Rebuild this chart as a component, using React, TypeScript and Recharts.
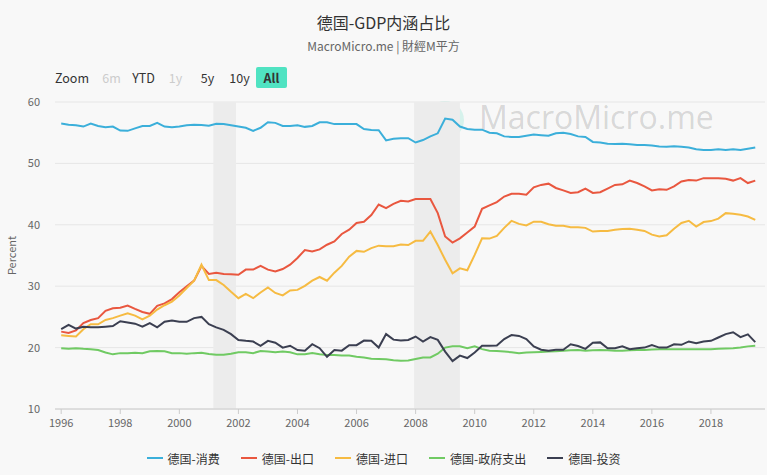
import {
  CartesianGrid,
  Legend,
  Line,
  LineChart,
  ReferenceArea,
  XAxis,
  YAxis,
} from "recharts";

const FONT = '"Noto Sans CJK SC", "Noto Sans", sans-serif';

// quarterly, 1996Q1 .. 2019Q3
const startYear = 1996;

const consumption = [
  56.5, 56.3, 56.2, 56.0,
  56.5, 56.1, 55.9, 56.0,
  55.35, 55.3, 55.7, 56.1,
  56.1, 56.6, 56.0, 55.9,
  56.0, 56.2, 56.3, 56.25,
  56.15, 56.45, 56.4, 56.2,
  56.0, 55.8, 55.3, 55.8,
  56.7, 56.6, 56.1, 56.1,
  56.2, 55.95, 56.1, 56.7,
  56.7, 56.4, 56.4, 56.4,
  56.4, 55.6, 55.45, 55.4,
  53.75, 54.0, 54.1, 54.1,
  53.4, 53.8, 54.4, 54.9,
  57.3, 57.1, 56.0, 55.6,
  55.5, 55.5, 55.0, 54.9,
  54.4, 54.3, 54.3, 54.5,
  54.7, 54.6, 54.5, 54.9,
  55.0, 54.8, 54.4, 54.3,
  53.5, 53.4, 53.2, 53.15,
  53.2, 53.1, 53.0, 53.0,
  52.9, 52.75, 52.7, 52.8,
  52.7, 52.6, 52.3, 52.2,
  52.2, 52.3, 52.2, 52.3,
  52.2, 52.4, 52.6,
];

const exportsShare = [
  22.6, 22.4, 22.8, 24.0,
  24.5, 24.8, 26.0, 26.4,
  26.5, 26.85, 26.3, 25.8,
  25.5, 26.8, 27.2, 27.9,
  29.0, 30.0, 30.9, 33.3,
  32.0, 32.2, 32.0, 31.95,
  31.85, 32.7, 32.7, 33.3,
  32.7, 32.4, 32.8, 33.5,
  34.6, 35.9, 35.65, 36.0,
  36.75, 37.3, 38.5, 39.2,
  40.3, 40.5, 41.6, 43.3,
  42.7, 43.4, 43.9, 43.8,
  44.2, 44.2, 44.2, 41.9,
  38.1, 37.1, 37.8, 38.75,
  39.7, 42.6, 43.15, 43.7,
  44.6, 45.05, 45.05, 44.9,
  46.1, 46.5, 46.7, 46.0,
  45.6, 45.2, 45.3, 45.9,
  45.2, 45.3, 45.9, 46.5,
  46.6, 47.2, 46.8, 46.25,
  45.6, 45.8, 45.7, 46.25,
  47.05, 47.3, 47.2, 47.6,
  47.6, 47.6, 47.5, 47.2,
  47.6, 46.8, 47.2,
];

const importsShare = [
  22.0, 21.9, 21.8, 23.0,
  23.8, 23.8, 24.5, 24.8,
  25.2, 25.6, 25.2, 24.6,
  25.2, 26.2, 26.9, 27.5,
  28.5, 29.7, 30.9, 33.5,
  31.0, 31.0, 30.2, 29.1,
  28.05, 28.75, 28.05, 28.97,
  29.8, 28.9, 28.5, 29.3,
  29.4, 30.05, 30.9, 31.5,
  30.9, 32.2, 33.3, 34.8,
  35.75, 35.6, 36.2, 36.6,
  36.5, 36.5, 36.8, 36.7,
  37.4, 37.4, 38.9, 36.7,
  34.3, 32.1, 32.9, 32.6,
  35.1, 37.8, 37.75, 38.2,
  39.5, 40.65, 40.15, 39.9,
  40.5, 40.5, 40.1, 39.85,
  39.85, 39.6, 39.6, 39.5,
  38.9, 39.0, 39.0, 39.2,
  39.3, 39.35, 39.2, 39.0,
  38.4, 38.1, 38.3, 39.35,
  40.3, 40.65, 39.7, 40.45,
  40.6, 41.0, 41.9, 41.8,
  41.65, 41.35, 40.8,
];

const government = [
  19.9, 19.8, 19.9, 19.8,
  19.75, 19.6, 19.2, 18.9,
  19.1, 19.1, 19.15, 19.1,
  19.4, 19.45, 19.4, 19.1,
  19.1, 19.0, 19.1, 19.15,
  18.95, 18.85, 18.85, 19.0,
  19.25, 19.25, 19.1, 19.45,
  19.35, 19.25, 19.35, 19.25,
  18.9, 18.9, 19.1, 18.9,
  18.8, 18.8, 18.7, 18.7,
  18.5, 18.4, 18.2, 18.15,
  18.1, 17.95, 17.85, 17.9,
  18.15, 18.4, 18.4, 19.0,
  20.0, 20.2, 20.2, 19.9,
  20.2, 19.75, 19.5, 19.45,
  19.35, 19.25, 19.1, 19.2,
  19.25, 19.3, 19.35, 19.4,
  19.5, 19.55, 19.6, 19.5,
  19.55, 19.6, 19.55, 19.5,
  19.5, 19.55, 19.6, 19.6,
  19.7, 19.75, 19.75, 19.75,
  19.75, 19.75, 19.75, 19.75,
  19.75, 19.8, 19.85, 19.9,
  20.0, 20.2, 20.3,
];

const investment = [
  23.0, 23.7, 23.1, 23.4,
  23.3, 23.3, 23.4, 23.5,
  24.3, 24.1, 23.9, 23.4,
  24.0, 23.3, 24.2, 24.4,
  24.2, 24.2, 24.8, 25.0,
  23.8, 23.3, 22.9, 22.2,
  21.25, 21.1, 20.98, 20.3,
  21.1, 20.8, 20.0, 20.3,
  19.6, 19.5, 20.55, 19.9,
  18.5, 19.6, 19.5, 20.4,
  20.4, 21.15, 21.1, 20.0,
  22.2, 21.3, 21.15, 21.25,
  21.8, 20.98, 21.7, 21.25,
  19.35, 17.8, 18.7, 18.3,
  19.2, 20.3, 20.3, 20.35,
  21.4, 22.05, 21.9, 21.4,
  20.2, 19.65, 19.5, 19.65,
  19.65, 20.55, 20.25, 19.8,
  20.8, 20.85, 19.9, 19.9,
  20.2, 19.75, 19.9, 20.0,
  20.4, 20.0, 20.0, 20.55,
  20.45, 21.0, 20.7, 21.0,
  21.1, 21.65, 22.2, 22.5,
  21.7, 22.15, 20.9,
];

const yearTicks = [1996, 1998, 2000, 2002, 2004, 2006, 2008, 2010, 2012, 2014, 2016, 2018];
const valueTicks = [10, 20, 30, 40, 50, 60];
const recessions = [
  [2001.15, 2001.92],
  [2007.95, 2009.5],
];
const rangeButtons = ["6m", "YTD", "1y", "5y", "10y", "All"];
const disabledButtons = ["6m", "1y"];

const series = [
  { key: "consumption", name: "德国-消费", color: "#3bafda", values: consumption },
  { key: "exports", name: "德国-出口", color: "#e9573f", values: exportsShare },
  { key: "imports", name: "德国-进口", color: "#f6bb42", values: importsShare },
  { key: "government", name: "德国-政府支出", color: "#70ca63", values: government },
  { key: "investment", name: "德国-投资", color: "#3b3f51", values: investment },
];

const data = consumption.map((_, i) => {
  const row: Record<string, number> = { t: startYear + i / 4 };
  series.forEach((s) => {
    row[s.key] = s.values[i];
  });
  return row;
});

function LegendContent() {
  return (
    <div
      style={{
        display: "flex",
        justifyContent: "center",
        alignItems: "center",
        height: 30,
        fontFamily: FONT,
        fontSize: 12,
        color: "#333",
      }}
    >
      {series.map((s, i) => (
        <div key={s.key} style={{ display: "flex", alignItems: "center", marginLeft: i ? 21 : 0 }}>
          <span style={{ display: "inline-block", width: 16, height: 2, background: s.color, marginRight: 5 }} />
          <span>{s.name}</span>
        </div>
      ))}
    </div>
  );
}

export default function App() {
  return (
    <div
      style={{
        position: "fixed",
        left: 0,
        top: 0,
        width: 767,
        height: 475,
        background: "#f8f8f8",
        fontFamily: FONT,
        overflow: "hidden",
      }}
    >
      <div style={{ position: "absolute", top: 10, width: 767, textAlign: "center", fontSize: 16, lineHeight: "24px", color: "#333" }}>
        德国-GDP内涵占比
      </div>
      <div style={{ position: "absolute", top: 38, width: 767, textAlign: "center", fontSize: 12, lineHeight: "16px", color: "#666" }}>
        MacroMicro.me | 財經M平方
      </div>

      <div style={{ position: "absolute", top: 67, left: 55, lineHeight: "21px", fontSize: 12.5, color: "#333" }}>
        Zoom
      </div>
      {rangeButtons.map((b, i) => {
        const active = b === "All";
        return (
          <div
            key={b}
            style={{
              position: "absolute",
              top: 67,
              left: 96 + i * 32,
              width: 31,
              height: 21,
              lineHeight: "21px",
              textAlign: "center",
              fontSize: 12.5,
              borderRadius: 2,
              background: active ? "#50e3c2" : "transparent",
              fontWeight: active ? 700 : 400,
              color: disabledButtons.includes(b) ? "#ccc" : "#333",
            }}
          >
            {b}
          </div>
        );
      })}

      <div
        style={{
          position: "absolute",
          left: 426,
          top: 101,
          width: 38,
          height: 38,
          borderRadius: "50%",
          background: "rgba(80, 220, 190, 0.2)",
        }}
      />
      <div
        style={{
          position: "absolute",
          left: 479,
          top: 97,
          fontFamily: '"Open Sans", sans-serif',
          fontSize: 32,
          lineHeight: "40px",
          color: "rgba(0,0,0,0.15)",
        }}
      >
        MacroMicro.me
      </div>

      <div style={{ position: "absolute", left: 0, top: 0 }}>
        <LineChart width={767} height={475} data={data} margin={{ top: 102, right: 2, bottom: 2, left: 10 }}>
          <CartesianGrid vertical={false} stroke="#e6e6e6" />
          {recessions.map((r, i) => (
            <ReferenceArea key={i} x1={r[0]} x2={r[1]} y1={10} y2={60} fill="#ececec" fillOpacity={1} stroke="none" />
          ))}
          <XAxis
            dataKey="t"
            type="number"
            domain={[1995.79, 2019.83]}
            ticks={yearTicks}
            interval={0}
            allowDataOverflow
            height={34}
            tickSize={5}
            tickMargin={5}
            axisLine={{ stroke: "#ccc" }}
            tickLine={{ stroke: "#ccc" }}
            tick={{ fill: "#666", fontSize: 11, fontFamily: FONT }}
          />
          <YAxis
            domain={[10, 60]}
            ticks={valueTicks}
            width={45}
            axisLine={false}
            tickLine={false}
            tickMargin={9}
            tick={{ fill: "#666", fontSize: 11, fontFamily: FONT }}
            label={{
              value: "Percent",
              angle: -90,
              position: "insideLeft",
              offset: 2,
              style: { textAnchor: "middle", fill: "#666", fontSize: 11, fontFamily: FONT },
            }}
          />
          <Legend verticalAlign="bottom" height={30} wrapperStyle={{ left: 0, width: 767 }} content={LegendContent} />
          {series.map((s) => (
            <Line
              key={s.key}
              type="linear"
              dataKey={s.key}
              name={s.name}
              stroke={s.color}
              strokeWidth={2}
              dot={false}
              activeDot={false}
              isAnimationActive={false}
            />
          ))}
        </LineChart>
      </div>
    </div>
  );
}
